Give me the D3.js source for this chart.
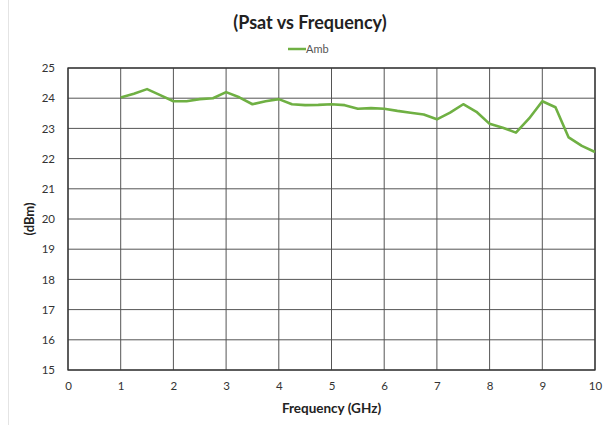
<!DOCTYPE html>
<html><head><meta charset="utf-8">
<script src="https://cdn.jsdelivr.net/npm/d3@7"></script>
<style>body{margin:0;background:#fff;}svg{display:block;font-family:Lato,"Open Sans",sans-serif;}</style>
</head><body>
<svg id="c" width="603" height="425"></svg>
<script>
const frequency = [1,1.25,1.5,1.75,2,2.25,2.5,2.75,3,3.25,3.5,3.75,4,4.25,4.5,4.75,5,5.25,5.5,5.75,6,6.25,6.5,6.75,7,7.25,7.5,7.75,8,8.25,8.5,8.75,9,9.25,9.5,9.75,10];
const amb = [24.02,24.15,24.3,24.1,23.9,23.9,23.97,24.0,24.2,24.03,23.8,23.9,23.97,23.8,23.77,23.78,23.8,23.77,23.65,23.67,23.65,23.58,23.52,23.46,23.3,23.52,23.8,23.55,23.15,23.02,22.86,23.33,23.9,23.7,22.7,22.42,22.22];
const xTicks = [0,1,2,3,4,5,6,7,8,9,10];
const yTicks = [15,16,17,18,19,20,21,22,23,24,25];
const title = "(Psat vs Frequency)";
const seriesName = "Amb";
const xLabel = "Frequency (GHz)";
const yLabel = "(dBm)";

const svg = d3.select("#c");
const m = {l:68, r:595, t:68, b:370};
const x = d3.scaleLinear().domain([0,10]).range([m.l, m.r]);
const y = d3.scaleLinear().domain([15,25]).range([m.b, m.t]);

// faint outer frame
svg.append("line").attr("x1",8.5).attr("x2",8.5).attr("y1",0).attr("y2",425).attr("stroke","#e4e4e4");

// grid
svg.append("g").selectAll("line").data(yTicks).join("line")
  .attr("x1",m.l).attr("x2",m.r).attr("y1",d=>y(d)).attr("y2",d=>y(d))
  .attr("stroke","#555").attr("stroke-width",1);
svg.append("g").selectAll("line").data(xTicks).join("line")
  .attr("y1",m.t).attr("y2",m.b).attr("x1",d=>x(d)).attr("x2",d=>x(d))
  .attr("stroke","#555").attr("stroke-width",1);
svg.append("rect").attr("x",m.l).attr("y",m.t).attr("width",m.r-m.l).attr("height",m.b-m.t)
  .attr("fill","none").attr("stroke","#333").attr("stroke-width",1.3);

// axes labels
const xAxis = d3.axisBottom(x).tickValues(xTicks).tickSize(0).tickPadding(12);
const gx = svg.append("g").attr("transform",`translate(0,${m.b})`).call(xAxis);
gx.select(".domain").remove();
gx.selectAll("text").attr("font-size",11.5).attr("fill","#333").attr("font-family","Lato,sans-serif");
const yAxis = d3.axisLeft(y).tickValues(yTicks).tickSize(0).tickPadding(13);
const gy = svg.append("g").attr("transform",`translate(${m.l},0)`).call(yAxis);
gy.select(".domain").remove();
gy.selectAll("text").attr("font-size",11.5).attr("fill","#333").attr("font-family","Lato,sans-serif");

// line
const line = d3.line().x((d,i)=>x(frequency[i])).y(d=>y(d));
svg.append("path").datum(amb).attr("d",line).attr("fill","none")
  .attr("stroke","#6fb043").attr("stroke-width",2.6).attr("stroke-linejoin","round");

// title & legend
svg.append("text").attr("x",310).attr("y",29).attr("text-anchor","middle")
  .attr("font-size",18).attr("font-weight","bold").attr("fill","#222").text(title);
svg.append("line").attr("x1",288).attr("x2",306).attr("y1",49).attr("y2",49)
  .attr("stroke","#6fb043").attr("stroke-width",2.5);
svg.append("text").attr("x",306).attr("y",53).attr("font-size",11).attr("fill","#555").text(seriesName);

// axis titles
svg.append("text").attr("x",(m.l+m.r)/2).attr("y",413).attr("text-anchor","middle")
  .attr("font-size",13.5).attr("font-weight","bold").attr("fill","#222").text(xLabel);
svg.append("text").attr("transform","translate(34,219) rotate(-90)").attr("text-anchor","middle")
  .attr("font-size",13).attr("font-weight","bold").attr("fill","#222").text(yLabel);
</script>
</body></html>
